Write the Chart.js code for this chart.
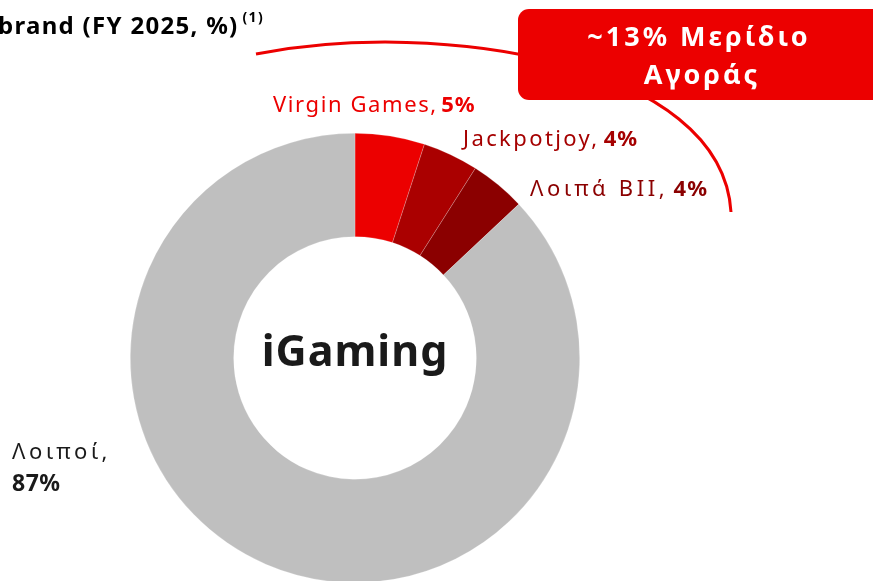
<!DOCTYPE html>
<html>
<head>
<meta charset="utf-8">
<script src="https://cdn.jsdelivr.net/npm/chart.js@4.4.1/dist/chart.umd.min.js"></script>
<style>
  html, body { margin: 0; padding: 0; background: #fff; overflow: hidden; }
  #wrap { width: 873px; height: 600px; }
</style>
</head>
<body>
<div id="wrap"><canvas id="chart" width="873" height="600"></canvas></div>
<script>
// data
const brands = ["Virgin Games", "Jackpotjoy", "Λοιπά BII", "Λοιποί"];
const shares = [5, 4, 4, 87];
const sliceColors = ["#EC0000", "#AA0000", "#8B0000", "#BFBFBF"];
const labelColors = ["#EC0000", "#A50000", "#8B0000", "#1a1a1a"];
const centerText = "iGaming";
const titleText = "brand (FY 2025, %)";
const titleNote = "(1)";
const calloutLines = ["~13% Μερίδιο", "Αγοράς"];

const FONT = "'Noto Sans', sans-serif";

// where each label sits (x, y of text baseline)
const labelPos = [
  { x: 273, y: 112, sp: 1.6 },
  { x: 463, y: 146, sp: 2.4 },
  { x: 530, y: 196, sp: 3.6 },
  { x: 12, y: 459, sp: 3.6, split: true }
];

function drawLabel(ctx, name, val, pos, color) {
  ctx.fillStyle = color;
  ctx.textAlign = "left";
  ctx.textBaseline = "alphabetic";
  if (pos.split) {
    ctx.font = "22px " + FONT;
    ctx.letterSpacing = pos.sp + "px";
    ctx.fillText(name + ",", pos.x, pos.y);
    ctx.letterSpacing = "0.5px";
    ctx.font = "bold 23px " + FONT;
    ctx.fillText(val + "%", pos.x, pos.y + 32);
    ctx.letterSpacing = "0px";
    return;
  }
  ctx.letterSpacing = pos.sp + "px";
  ctx.font = "22px " + FONT;
  const first = name + ", ";
  ctx.fillText(first, pos.x, pos.y);
  const w = ctx.measureText(first).width;
  ctx.letterSpacing = "1px";
  ctx.font = "bold 22px " + FONT;
  ctx.fillText(val + "%", pos.x + w - 4, pos.y);
  ctx.letterSpacing = "0px";
}

const decor = {
  id: "decor",
  afterDatasetsDraw(chart) {
    const ctx = chart.ctx;
    const meta = chart.getDatasetMeta(0);
    const arc = meta.data[0];
    ctx.save();

    // centre text
    ctx.fillStyle = "#1a1a1a";
    ctx.font = "bold 43px " + FONT;
    ctx.letterSpacing = "1px";
    ctx.textAlign = "center";
    ctx.textBaseline = "middle";
    ctx.fillText(centerText, arc.x, arc.y - 4);
    ctx.letterSpacing = "0px";

    // slice labels
    brands.forEach((b, i) => drawLabel(ctx, b, shares[i], labelPos[i], labelColors[i]));

    // title (cut at the left edge)
    ctx.fillStyle = "#000";
    ctx.textAlign = "left";
    ctx.textBaseline = "alphabetic";
    ctx.font = "bold 24px " + FONT;
    ctx.letterSpacing = "1.3px";
    ctx.fillText(titleText, -2, 34);
    const tw = ctx.measureText(titleText).width;
    ctx.font = "bold 14px " + FONT;
    ctx.fillText(titleNote, tw + 2, 22);
    ctx.letterSpacing = "0px";

    // bracket curve
    ctx.strokeStyle = "#EC0000";
    ctx.lineWidth = 3;
    ctx.beginPath();
    ctx.moveTo(256, 54);
    ctx.bezierCurveTo(440, 18, 722, 62, 731, 212);
    ctx.stroke();

    // callout box
    ctx.fillStyle = "#EC0000";
    ctx.beginPath();
    ctx.roundRect(518, 9, 370, 91, 11);
    ctx.fill();
    ctx.fillStyle = "#fff";
    ctx.textAlign = "center";
    ctx.textBaseline = "alphabetic";
    ctx.font = "bold 27px " + FONT;
    ctx.letterSpacing = "3px";
    ctx.fillText(calloutLines[0], 699, 46);
    ctx.fillText(calloutLines[1], 702, 84);
    ctx.letterSpacing = "0px";
    ctx.restore();
  }
};

new Chart(document.getElementById("chart"), {
  type: "doughnut",
  data: {
    labels: brands,
    datasets: [{
      data: shares,
      backgroundColor: sliceColors,
      borderColor: "rgba(255,255,255,0.35)",
      borderWidth: 0.6
    }]
  },
  options: {
    responsive: false,
    animation: false,
    cutout: "54%",
    layout: { padding: { left: 130, right: 293, top: 133, bottom: 17 } },
    plugins: {
      legend: { display: false },
      tooltip: { enabled: false }
    }
  },
  plugins: [decor]
});
</script>
</body>
</html>
